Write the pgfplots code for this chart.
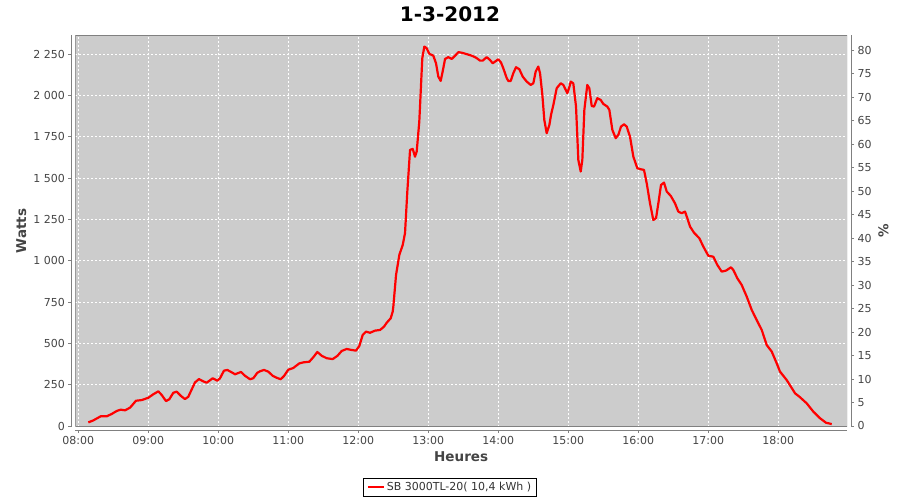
\documentclass[border=0pt]{standalone}
\usepackage{pgfplots}
\pgfplotsset{compat=1.18}
\usepackage{fontspec}
\setmainfont{DejaVu Sans}
\definecolor{plotbg}{HTML}{CCCCCC}
\definecolor{axgray}{HTML}{808080}
\definecolor{txtgray}{HTML}{444444}
\pgfplotsset{/pgf/number format/assume math mode=true}
\pgfplotstableread{
h w
8.143 22
8.214 34
8.320 59
8.406 59
8.477 73
8.549 91
8.606 99
8.667 95
8.739 111
8.824 153
8.906 157
9.000 171
9.071 192
9.143 210
9.191 188
9.253 151
9.300 162
9.357 201
9.406 208
9.463 183
9.524 163
9.571 177
9.667 264
9.724 284
9.786 270
9.834 262
9.920 289
9.986 274
10.024 289
10.081 335
10.129 339
10.191 325
10.239 313
10.324 327
10.381 304
10.453 283
10.500 289
10.557 322
10.596 331
10.653 339
10.714 329
10.777 304
10.834 292
10.891 283
10.939 303
11.000 341
11.071 351
11.157 379
11.214 385
11.300 389
11.357 416
11.414 448
11.477 425
11.549 410
11.634 405
11.700 424
11.763 454
11.834 466
11.906 460
11.967 456
12.014 484
12.063 551
12.110 571
12.167 564
12.239 577
12.310 581
12.367 601
12.406 625
12.463 652
12.491 692
12.500 722
12.539 914
12.586 1035
12.634 1095
12.667 1166
12.700 1418
12.739 1670
12.777 1676
12.810 1629
12.834 1660
12.871 1841
12.914 2225
12.943 2295
12.977 2285
13.014 2251
13.071 2240
13.110 2194
13.143 2113
13.177 2087
13.214 2164
13.239 2220
13.286 2231
13.334 2220
13.381 2239
13.429 2261
13.477 2258
13.549 2249
13.620 2240
13.681 2228
13.739 2210
13.777 2210
13.834 2231
13.881 2214
13.920 2194
13.953 2204
14.000 2218
14.039 2198
14.071 2164
14.120 2104
14.143 2087
14.177 2087
14.214 2134
14.253 2170
14.300 2158
14.349 2113
14.406 2083
14.463 2063
14.500 2073
14.534 2144
14.571 2174
14.596 2134
14.629 2003
14.657 1851
14.691 1771
14.729 1821
14.753 1882
14.786 1942
14.834 2043
14.891 2073
14.929 2063
14.986 2013
15.024 2063
15.034 2083
15.071 2073
15.110 1932
15.143 1609
15.177 1539
15.200 1609
15.229 1912
15.271 2063
15.300 2043
15.334 1936
15.367 1932
15.414 1983
15.463 1972
15.500 1948
15.557 1932
15.586 1912
15.629 1791
15.677 1741
15.714 1761
15.753 1811
15.796 1825
15.834 1811
15.881 1750
15.929 1629
15.986 1559
16.034 1553
16.081 1549
16.120 1468
16.167 1347
16.214 1246
16.253 1257
16.286 1347
16.324 1458
16.367 1472
16.406 1418
16.463 1392
16.524 1347
16.571 1297
16.620 1287
16.667 1297
16.700 1257
16.739 1206
16.796 1169
16.871 1136
16.929 1085
17.000 1030
17.071 1024
17.129 974
17.191 934
17.253 940
17.324 960
17.357 944
17.414 894
17.477 853
17.549 782
17.620 702
17.691 641
17.763 581
17.834 490
17.906 450
17.977 379
18.024 329
18.120 278
18.239 198
18.310 174
18.406 137
18.500 87
18.596 47
18.681 20
18.763 12
}\power
\begin{document}
\begin{tikzpicture}[x=1pt,y=1pt]
\path[use as bounding box] (0,0) rectangle (900,500);
\node[font=\fontsize{20}{24}\selectfont\bfseries] at (450,486) {1-3-2012};
\begin{axis}[
  at={(75.3pt,73.3pt)}, anchor=south west, scale only axis,
  width=771.7pt, height=391.7pt,
  xmin=7.957, xmax=18.981, ymin=-4, ymax=2365,
  axis background/.style={fill=plotbg},
  axis x line*=bottom, axis y line*=left,
  axis x line shift=3.3pt, axis y line shift=4pt,
  axis line style={axgray, line width=0.8pt},
  xtick={8,9,...,18},
  xticklabels={08:00,09:00,10:00,11:00,12:00,13:00,14:00,15:00,16:00,17:00,18:00},
  ytick={0,250,...,2250},
  yticklabels={0,250,500,750,1 000,1 250,1 500,1 750,2 000,2 250},
  tick style={axgray, line width=0.8pt}, tick align=outside, major tick length=3pt,
  ticklabel style={font=\fontsize{11}{13}\selectfont, text=txtgray},
  grid=major, major grid style={white, line width=0.6pt, dash pattern=on 2pt off 2pt},
  xlabel={Heures}, ylabel={Watts},
  label style={font=\fontsize{13.5}{16}\selectfont\bfseries, text=txtgray},
  legend style={at={(0.4856,-0.154)}, anchor=center, draw=black, line width=0.8pt,
    font=\fontsize{11}{13}\selectfont, text=black!80, inner xsep=3pt, inner ysep=2pt},
  legend image code/.code={\draw[red, line width=2pt] (0pt,0pt) -- (16pt,0pt);},
]
\draw[axgray, line width=0.8pt] (rel axis cs:0,0) rectangle (rel axis cs:1,1);
\addplot[red, line width=2.2pt, no marks, line join=round] table[x=h, y=w] {\power};
\addlegendentry{SB 3000TL-20( 10,4 kWh )}
\end{axis}
\begin{axis}[
  at={(75.3pt,73.3pt)}, anchor=south west, scale only axis,
  width=771.7pt, height=391.7pt,
  xmin=7.957, xmax=18.981, ymin=-0.15, ymax=83.2,
  axis x line=none, axis y line*=right, axis y line shift=4pt,
  axis line style={axgray, line width=0.8pt},
  ytick={0,5,...,80},
  tick style={axgray, line width=0.8pt}, tick align=outside, major tick length=3pt,
  ticklabel style={font=\fontsize{11}{13}\selectfont, text=txtgray},
  ylabel={\%},
  label style={font=\fontsize{13.5}{16}\selectfont\bfseries, text=txtgray},
]
\addplot[draw=none] coordinates {(8,0)};
\end{axis}
\end{tikzpicture}
\end{document}
